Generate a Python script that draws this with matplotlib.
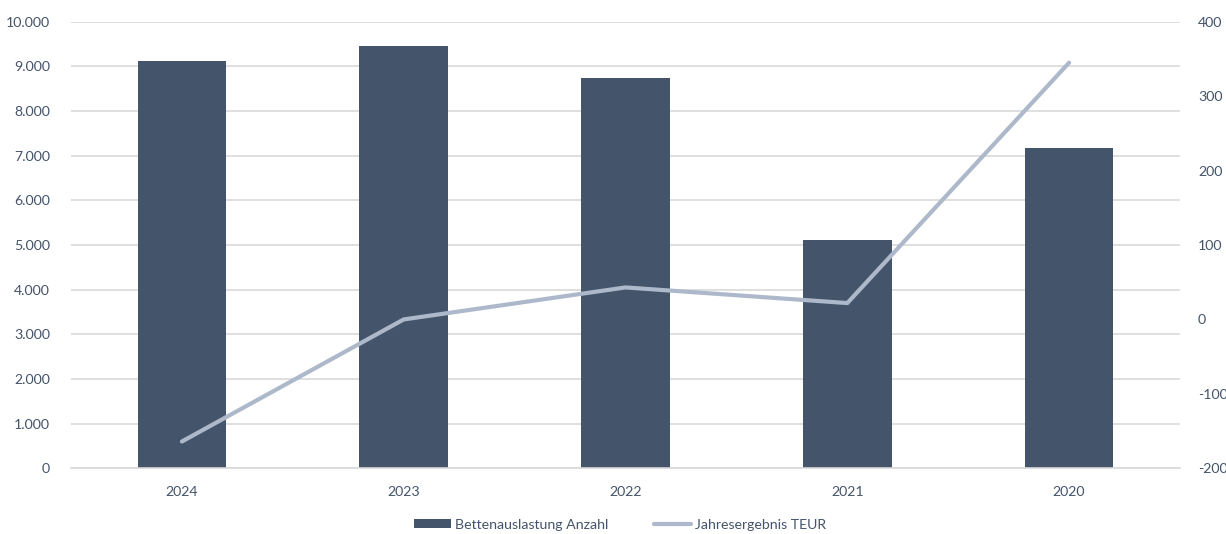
import matplotlib
matplotlib.use('Agg')
import matplotlib.pyplot as plt
from matplotlib.ticker import FuncFormatter, MultipleLocator
import numpy as np

plt.rcParams['font.family'] = ['Lato', 'DejaVu Sans']

years = ['2024', '2023', '2022', '2021', '2020']
betten = [9110, 9450, 8750, 5110, 7170]
ergebnis = [-164, 0, 43, 22, 345]

BAR = '#44546A'
LINE = '#ADB9CA'
TXT = '#44546A'
GRID = '#D9D9D9'

fig = plt.figure(figsize=(12.26, 5.34), dpi=100)
ax = fig.add_axes([0.0579, 0.123, 0.9046, 0.8364])
ax2 = ax.twinx()

x = np.arange(len(years))
ax.bar(x, betten, width=0.4, color=BAR, zorder=2, label='Bettenauslastung Anzahl')
ax2.plot(x, ergebnis, color=LINE, linewidth=3, solid_capstyle='round',
         solid_joinstyle='round', zorder=3, label='Jahresergebnis TEUR')

ax.set_xlim(-0.5, len(years) - 0.5)
ax.set_ylim(0, 10000)
ax.yaxis.set_major_locator(MultipleLocator(1000))
ax.yaxis.set_major_formatter(FuncFormatter(lambda v, p: f'{int(v):,}'.replace(',', '.')))
ax2.set_ylim(-200, 400)
ax2.yaxis.set_major_locator(MultipleLocator(100))
ax2.yaxis.set_major_formatter(FuncFormatter(lambda v, p: f'{int(round(v))}'))

ax.set_xticks(x)
ax.set_xticklabels(years)
ax.grid(True, axis='y', color=GRID, linewidth=1.2, zorder=0)
ax.set_axisbelow(True)

for a in (ax, ax2):
    for s in a.spines.values():
        s.set_visible(False)
    a.tick_params(length=0, labelsize=10.2, colors=TXT)
ax.tick_params(axis='y', pad=15)
ax.tick_params(axis='x', pad=13)
ax2.tick_params(axis='y', pad=13)
ax.spines['bottom'].set_visible(True)
ax.spines['bottom'].set_color(GRID)
ax.spines['bottom'].set_linewidth(1.2)

h1, l1 = ax.get_legend_handles_labels()
h2, l2 = ax2.get_legend_handles_labels()
fig.legend(h1 + h2, l1 + l2, loc='center', bbox_to_anchor=(0.506, 0.017), ncol=2,
           frameon=False, fontsize=10.2, labelcolor=TXT, handlelength=2.6,
           handleheight=0.6, columnspacing=3.2, handletextpad=0.3)

fig.savefig('out.png', dpi=100)
